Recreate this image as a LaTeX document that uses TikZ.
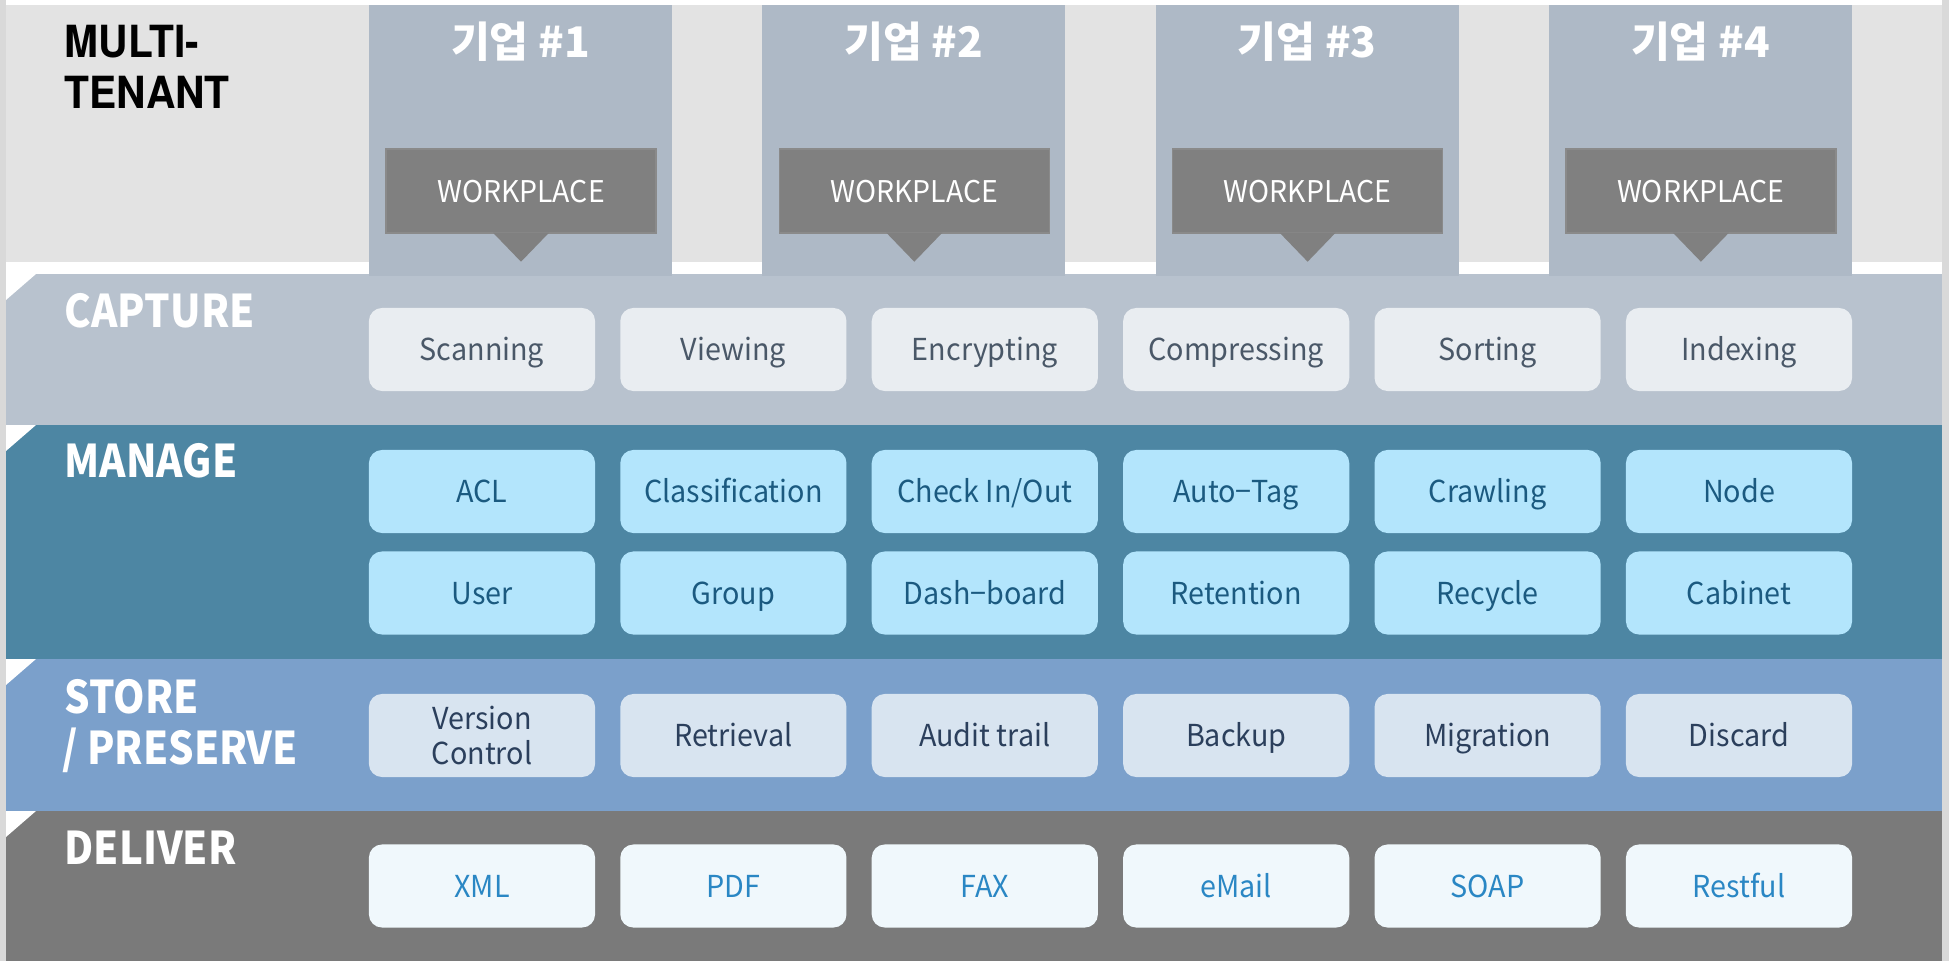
\documentclass[tikz,border=0pt]{standalone}
\usepackage{fontspec}
\setmainfont{Noto Sans CJK KR}
\newfontfamily\condfont[FakeStretch=0.92]{TeX Gyre Heros}
\newfontfamily\labfont[FakeStretch=0.89]{Noto Sans CJK KR}
\newfontfamily\itemfont[FakeStretch=0.95]{Noto Sans CJK KR}
\definecolor{cBg}{HTML}{E3E3E3}
\definecolor{cEdge}{HTML}{D9D9D9}
\definecolor{cCol}{HTML}{AEB9C6}
\definecolor{cCapBand}{HTML}{B8C2CE}
\definecolor{cCapBox}{HTML}{E9EDF1}
\definecolor{cCapTxt}{HTML}{4A5868}
\definecolor{cManBand}{HTML}{4D86A3}
\definecolor{cManBox}{HTML}{B3E5FC}
\definecolor{cManTxt}{HTML}{1B5A80}
\definecolor{cStoBand}{HTML}{7BA0CB}
\definecolor{cStoBox}{HTML}{D8E4F0}
\definecolor{cStoTxt}{HTML}{2B3F5C}
\definecolor{cDelBand}{HTML}{7A7A7A}
\definecolor{cDelBox}{HTML}{F0F8FC}
\definecolor{cDelTxt}{HTML}{2A87C4}
\definecolor{cWp}{HTML}{808080}
\begin{document}
\begin{tikzpicture}[x=0.01cm,y=-0.01cm,
  itembox/.style={rounded corners=0.13cm, minimum width=2.26cm, minimum height=0.83cm,
    inner sep=0pt, text height=0.22cm, text depth=0pt,
    font=\itemfont\fontsize{8.6}{10}\selectfont},
  capitem/.style={itembox, fill=cCapBox, text=cCapTxt},
  manitem/.style={itembox, fill=cManBox, text=cManTxt},
  stoitem/.style={itembox, fill=cStoBox, text=cStoTxt},
  delitem/.style={itembox, fill=cDelBox, text=cDelTxt},
  lab/.style={anchor=base west, inner sep=0pt, text=white,
    font=\labfont\bfseries\fontsize{12.8}{14}\selectfont},
  mtlab/.style={anchor=base west, inner sep=0pt, text=black,
    font=\condfont\bfseries\fontsize{12.6}{14}\selectfont},
  head/.style={anchor=base, inner sep=0pt, text=white,
    font=\bfseries\fontsize{12}{14}\selectfont},
  wpbox/.style={fill=cWp, draw=cWp!92!white, line width=0.4pt, minimum width=2.70cm, minimum height=0.84cm,
    inner sep=0pt, text=white, text height=0.22cm, text depth=0pt,
    font=\itemfont\fontsize{8.5}{10}\selectfont}
]
\useasboundingbox (0,0) rectangle (1949,961);
\fill[white] (0,0) rectangle (1949,961);
\fill[cEdge] (0,0) rectangle (6,961);
\fill[cEdge] (1942,0) rectangle (1949,961);
\fill[cBg] (6,5) rectangle (1942,262);
% bands
\fill[cCapBand] (6,274) rectangle (1942,425);
\fill[cManBand] (6,425) rectangle (1942,659);
\fill[cStoBand] (6,659) rectangle (1942,811);
\fill[cDelBand] (6,811) rectangle (1942,961);
\foreach \yy in {274,425,659,811}
  \fill[white] (6,\yy) -- (36,\yy) -- (6,\yy+26) -- cycle;
% tenant columns
\foreach \i in {1,...,4}{
  \fill[cCol] ({369+393.3*(\i-1)},5) rectangle ++(303,271);
  \node[head] (h\i) at ({520.5+393.3*(\i-1)},58) {기업 \#\i};
  \node[wpbox] (w\i) at ({521+393.3*(\i-1)},191) {WORKPLACE};
  \fill[cWp] (w\i.south) ++(-28,-1) -- ++(28,29) -- ++(28,-29) -- cycle;
}
% left labels
\node[mtlab] (mt1) at (64,58) {MULTI-};
\node[mtlab] (mt2) at (64,109) {TENANT};
\node[lab] (lcap) at (64,328) {CAPTURE};
\node[lab] (lman) at (64,477) {MANAGE};
\node[lab] (lsto1) at (64,713) {STORE};
\node[lab] (lsto2) at (62,764) {/ PRESERVE};
\node[lab] (ldel) at (64,864) {DELIVER};
% item boxes
\foreach \t [count=\i] in {Scanning,Viewing,Encrypting,Compressing,Sorting,Indexing}
  \node[capitem] (cap\i) at ({482+251.4*(\i-1)},349.5) {\t};
\foreach \t [count=\i] in {ACL,Classification,Check In/Out,Auto−Tag,Crawling,Node}
  \node[manitem] (ma\i) at ({482+251.4*(\i-1)},491.5) {\t};
\foreach \t [count=\i] in {User,Group,Dash−board,Retention,Recycle,Cabinet}
  \node[manitem] (mb\i) at ({482+251.4*(\i-1)},593) {\t};
\node[stoitem, text height=, text depth=, align=center, font=\itemfont\fontsize{8.6}{9.8}\selectfont] (st1) at (482,735.5) {Version\\Control};
\foreach \t [count=\j from 2] in {Retrieval,Audit trail,Backup,Migration,Discard}
  \node[stoitem] (st\j) at ({482+251.4*(\j-1)},735.5) {\t};
\foreach \t [count=\i] in {XML,PDF,FAX,eMail,SOAP,Restful}
  \node[delitem] (de\i) at ({482+251.4*(\i-1)},886) {\t};
\end{tikzpicture}
\end{document}
